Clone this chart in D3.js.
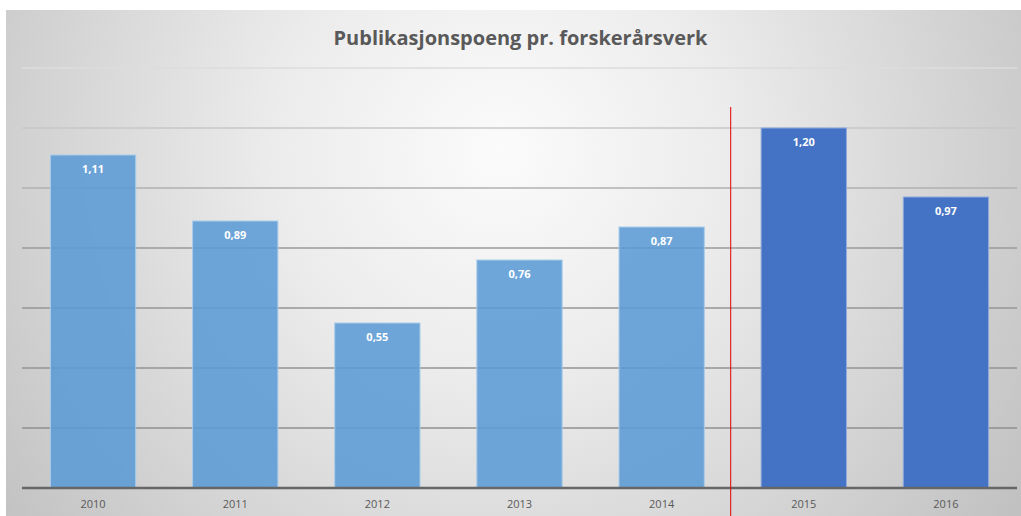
<!DOCTYPE html>
<html>
<head>
<meta charset="utf-8">
<script src="https://cdn.jsdelivr.net/npm/d3@7"></script>
<style>
  html, body { margin: 0; padding: 0; background: #fff; }
  svg { display: block; }
</style>
</head>
<body>
<div id="chart"></div>
<script>
const years = ["2010", "2011", "2012", "2013", "2014", "2015", "2016"];
const values = [1.11, 0.89, 0.55, 0.76, 0.87, 1.20, 0.97];
const gridTicks = [0, 0.2, 0.4, 0.6, 0.8, 1.0, 1.2, 1.4];
const highlightYears = ["2015", "2016"];
const dividerAfter = "2014";
const dividerTop = 1.27;
const title = "Publikasjonspoeng pr. forskerårsverk";

const W = 1021, H = 516;
const frame = { x: 6, y: 10, w: W - 6, h: H - 10 };
const plot = { left: 22, right: 1017, top: 68, bottom: 488 };

const fmt = (v) => d3.format(".2f")(v).replace(".", ",");

const svg = d3.select("#chart").append("svg")
  .attr("width", W)
  .attr("height", H);

const defs = svg.append("defs");
const bg = defs.append("radialGradient")
  .attr("id", "bg")
  .attr("gradientUnits", "userSpaceOnUse")
  .attr("cx", 500).attr("cy", 150).attr("r", 640);
bg.append("stop").attr("offset", "0").attr("stop-color", "#fbfbfb");
bg.append("stop").attr("offset", "0.35").attr("stop-color", "#ececec");
bg.append("stop").attr("offset", "1").attr("stop-color", "#c0c0c0");

svg.append("rect")
  .attr("x", frame.x).attr("y", frame.y)
  .attr("width", frame.w).attr("height", frame.h)
  .attr("fill", "url(#bg)");

const x = d3.scaleBand()
  .domain(years)
  .range([plot.left, plot.right])
  .paddingInner(0.4)
  .paddingOuter(0.2);

const y = d3.scaleLinear()
  .domain([0, 1.4])
  .range([plot.bottom, plot.top]);

// gridlines look lighter near the top of the chart
const gridColor = d3.scaleLinear()
  .domain([0.2, 0.8, 1.4])
  .range(["#8f8f8f", "#9a9a9a", "#dddddd"]);

svg.append("g")
  .selectAll("line")
  .data(gridTicks.filter(d => d > 0))
  .join("line")
  .attr("x1", plot.left).attr("x2", plot.right)
  .attr("y1", d => y(d)).attr("y2", d => y(d))
  .attr("stroke", d => gridColor(d))
  .attr("stroke-width", 1.5);

// bars
svg.append("g")
  .selectAll("rect")
  .data(years)
  .join("rect")
  .attr("x", d => x(d))
  .attr("y", (d, i) => y(values[i]))
  .attr("width", x.bandwidth())
  .attr("height", (d, i) => y(0) - y(values[i]))
  .attr("fill", d => highlightYears.includes(d) ? "#4472c4" : "#5b9bd5")
  .attr("fill-opacity", d => highlightYears.includes(d) ? 1 : 0.88)
  .attr("stroke", d => highlightYears.includes(d) ? "#8faadc" : "#a9cbe9")
  .attr("stroke-width", 1);

// value labels
svg.append("g")
  .selectAll("text")
  .data(years)
  .join("text")
  .attr("x", d => x(d) + x.bandwidth() / 2)
  .attr("y", (d, i) => y(values[i]) + 18)
  .attr("text-anchor", "middle")
  .attr("fill", "#ffffff")
  .style("font-family", "'Open Sans', sans-serif")
  .style("font-weight", "700")
  .style("font-size", "11px")
  .text((d, i) => fmt(values[i]));

// baseline
svg.append("line")
  .attr("x1", plot.left).attr("x2", plot.right)
  .attr("y1", y(0)).attr("y2", y(0))
  .attr("stroke", "#666666")
  .attr("stroke-width", 2.5);

// category labels
svg.append("g")
  .selectAll("text")
  .data(years)
  .join("text")
  .attr("x", d => x(d) + x.bandwidth() / 2)
  .attr("y", y(0) + 20)
  .attr("text-anchor", "middle")
  .attr("fill", "#595959")
  .style("font-family", "'Open Sans', sans-serif")
  .style("font-size", "11px")
  .text(d => d);

// red divider between 2014 and 2015
const nextYear = years[years.indexOf(dividerAfter) + 1];
const divX = (x(dividerAfter) + x.bandwidth() + x(nextYear)) / 2 - 2;
svg.append("line")
  .attr("x1", divX).attr("x2", divX)
  .attr("y1", y(dividerTop)).attr("y2", H)
  .attr("stroke", "#e00000")
  .attr("stroke-width", 1);

// title
svg.append("text")
  .attr("x", (plot.left + plot.right) / 2 + 1)
  .attr("y", 45)
  .attr("text-anchor", "middle")
  .attr("fill", "#595959")
  .style("font-family", "'Open Sans', sans-serif")
  .style("font-weight", "700")
  .style("font-size", "20px")
  .text(title);
</script>
</body>
</html>
